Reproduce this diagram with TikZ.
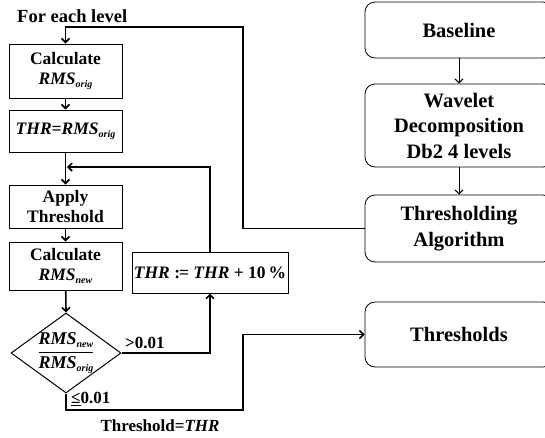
\documentclass[tikz,border=0pt]{standalone}
\usepackage{fontspec}
\setmainfont{Liberation Serif}
\usetikzlibrary{
    arrows.meta,
    shapes.geometric,
    positioning
}
\newcommand{\rmsof}[1]{\textit{RMS}\raisebox{-0.4ex}{\fontsize{10}{10}\selectfont\textit{#1}}}
\tikzset{
    stepbox/.style={draw, line width=1pt, minimum width=113pt, align=center,
        inner sep=1pt, font=\fontsize{17.5}{20.5}\selectfont\bfseries},
    blockbox/.style={draw, line width=0.8pt, rounded corners=10pt, minimum width=188pt,
        align=center, font=\fontsize{20.5}{25.5}\selectfont\bfseries},
    decide/.style={draw, diamond, line width=1pt, minimum width=110pt,
        minimum height=80pt, inner sep=0pt},
    flow/.style={line width=1.6pt, -{Straight Barb[length=4pt,width=8pt]}},
    lbl/.style={font=\fontsize{17}{20}\selectfont\bfseries, inner sep=1pt}
}

\begin{document}
\begin{tikzpicture}[x=1pt, y=-1pt]
    \useasboundingbox (0,0) rectangle (545,437);
    % main chain
    \node[blockbox, minimum height=56pt] (base) at (459, 30) {Baseline};
    \node[blockbox, minimum height=83pt] (wave) at (459, 125.5) {Wavelet\\Decomposition\\Db2 4 levels};
    \node[blockbox, minimum height=67pt] (algo) at (459, 228.5) {Thresholding\\Algorithm};
    \node[blockbox, minimum height=65pt] (out) at (459, 334.5) {Thresholds};

    % per level loop
    \node[lbl, anchor=west, font=\fontsize{18.5}{20}\selectfont\bfseries] (head) at (16, 16) {For each level};
    \node[stepbox, minimum height=54pt] (calc1) at (65.5, 71) {Calculate\\\rmsof{orig}};
    \node[stepbox, minimum height=42pt] (init) at (65.5, 131) {\itshape THR=\rmsof{orig}};
    \node[stepbox, minimum height=43pt] (apply) at (65.5, 206.5) {Apply\\Threshold};
    \node[stepbox, minimum height=48pt] (calc2) at (65.5, 266) {Calculate\\\rmsof{new}};
    \node[decide] (dec) at (66, 353) {};
    \node[inner sep=0pt, font=\fontsize{18}{20}\selectfont\bfseries] (ratio) at (dec)
        {$\displaystyle\frac{\mbox{\rmsof{new}}}{\mbox{\rmsof{orig}}}$};
    \node[stepbox, minimum width=156pt, minimum height=41pt] (incr) at (210, 272.5)
        {\textit{THR} :\kern-1pt= \textit{THR} + 10\,\%};

    \coordinate (loopTop) at (243, 27);
    \coordinate (joinA) at (67, 167);
    \coordinate (lowR) at (243, 410);

    \node[lbl, anchor=south west] (gt) at (124, 350) {>0.01};
    \node[lbl, anchor=west] (le) at (70, 399) {\underline{≤}0.01};
    \node[lbl] (res) at (160, 426) {Threshold=\textit{THR}};

    \draw[flow, line width=1pt] (base) -- (wave);
    \draw[flow, line width=1pt] (wave) -- (algo);
    \draw[flow] (algo.west) -| (loopTop) -| (calc1.north);
    \draw[flow] (calc1) -- (init);
    \draw[flow] (init) -- (apply);
    \draw[flow] (incr.north) |- (joinA);
    \draw[flow] (apply) -- (calc2);
    \draw[flow] (calc2) -- (dec.north);
    \draw[flow] (dec.east) -| (incr.south);
    \draw[flow] (dec.south) |- (lowR) |- (out.west);
\end{tikzpicture}
\end{document}
